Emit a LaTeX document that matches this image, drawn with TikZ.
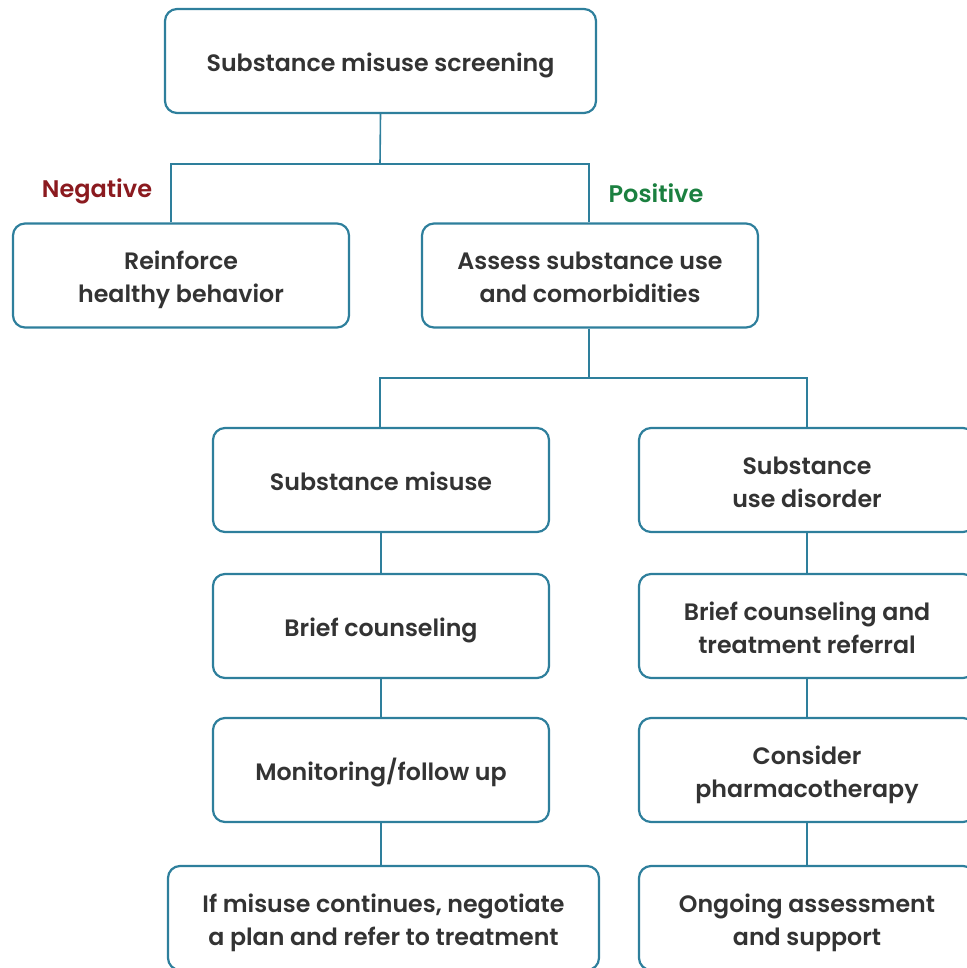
\documentclass[tikz,border=0pt]{standalone}
\usepackage{fontspec}
\setmainfont{Poppins}[BoldFont={Poppins SemiBold}]
\usetikzlibrary{calc}
\definecolor{lineC}{HTML}{2E7F9C}
\definecolor{txtC}{HTML}{333333}
\definecolor{negC}{HTML}{8B1A1F}
\definecolor{posC}{HTML}{1B8040}
\newcommand{\bxt}[1]{\raisebox{-4pt}[\height][\depth]{\begin{tabular}{@{}c@{}}#1\end{tabular}}}
\begin{document}
\begin{tikzpicture}[x=1pt,y=1pt,
  box/.style={draw=lineC, line width=2.2pt, rounded corners=12pt, fill=white,
    minimum width=336pt, minimum height=104pt, text=txtC,
    font=\fontsize{23.7}{33}\selectfont\bfseries, inner sep=0pt},
  wide/.style={minimum width=431pt},
  conn/.style={draw=lineC, line width=1.6pt},
  lab/.style={font=\fontsize{24}{28}\selectfont\bfseries}]
\useasboundingbox (0,0) rectangle (966,-968);
\node[box,wide] (top) at (380.5,-61) {\bxt{Substance misuse screening}};
\node[box] (reinf) at (181,-275.5) {\bxt{Reinforce\\healthy behavior}};
\node[box] (assess) at (590,-275.5) {\bxt{Assess substance use\\and comorbidities}};
\node[box] (sm) at (381,-480) {\bxt{Substance misuse}};
\node[box] (sud) at (807,-480) {\bxt{Substance\\use disorder}};
\node[box] (bc) at (381,-626) {\bxt{Brief counseling}};
\node[box] (bctr) at (807,-626) {\bxt{Brief counseling and\\treatment referral}};
\node[box] (mon) at (381,-770) {\bxt{Monitoring/follow up}};
\node[box] (cons) at (807,-770) {\bxt{Consider\\pharmacotherapy}};
\node[box,wide] (ifm) at (383.5,-918) {\bxt{If misuse continues, negotiate\\a plan and refer to treatment}};
\node[box] (ong) at (807,-918) {\bxt{Ongoing assessment\\and support}};
\node[lab, text=negC] (neg) at (97,-191) {Negative};
\node[lab, text=posC] (pos) at (656,-193) {Positive};
\coordinate (j1) at (380,-164);
\coordinate (j2) at (589,-378);
\draw[conn] (top.south) -- (j1);
\draw[conn] ([xshift=-10pt]reinf.north) |- (j1) -| ([xshift=-1pt]assess.north);
\draw[conn] ([xshift=-1pt]assess.south) -- (j2);
\draw[conn] ([xshift=-1pt]sm.north) |- (j2) -| (sud.north);
\draw[conn] (sm.south) -- (bc.north);
\draw[conn] (bc.south) -- (mon.north);
\draw[conn] (mon.south) -- ([xshift=-2.5pt]ifm.north);
\draw[conn] (sud.south) -- (bctr.north);
\draw[conn] (bctr.south) -- (cons.north);
\draw[conn] (cons.south) -- (ong.north);
\end{tikzpicture}
\end{document}
